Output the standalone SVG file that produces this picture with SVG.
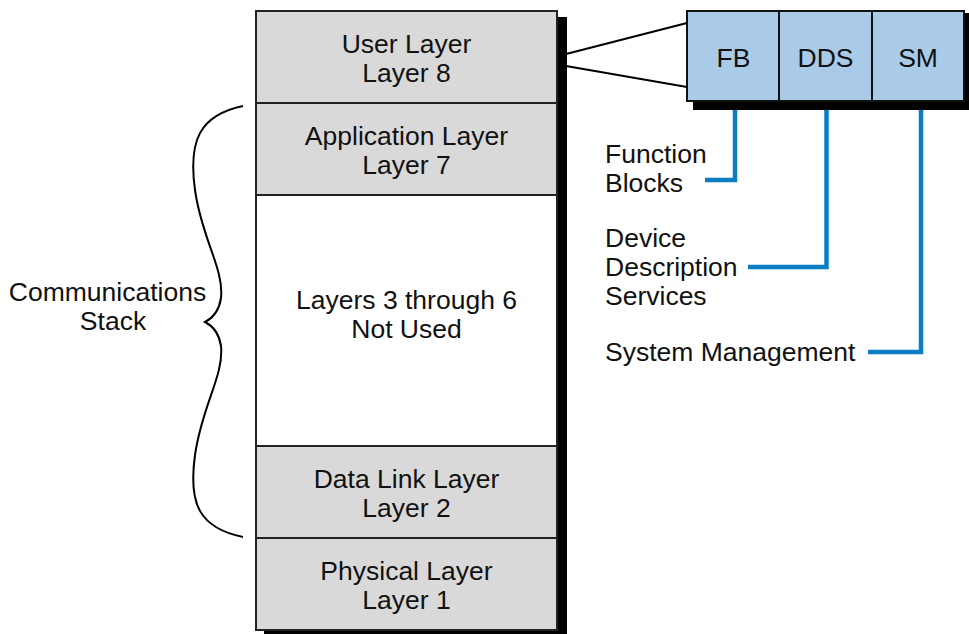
<svg xmlns="http://www.w3.org/2000/svg" width="969" height="634" viewBox="0 0 969 634">
<style>
text{font-family:"Liberation Sans",Arial,Helvetica,sans-serif;font-size:26.5px;fill:#111}
.c{text-anchor:middle}
.grey{fill:#d9d9d9;stroke:#222;stroke-width:2}
.white{fill:#fff;stroke:#222;stroke-width:2}
.blue{fill:#a9cbe7;stroke:#111;stroke-width:2}
.shadow{fill:#000}
.line{fill:none;stroke:#000;stroke-width:2}
.conn{fill:none;stroke:#0b7dc3;stroke-width:4.5}
</style>
<rect class="shadow" x="264" y="17" width="303" height="620"/>
<rect class="shadow" x="693" y="13" width="276" height="97"/>
<g id="user-layer"><rect class="grey" x="256" y="11" width="301" height="92"/><text class="c" x="406.5" y="53">User Layer</text><text class="c" x="406.5" y="82">Layer 8</text></g>
<g id="application-layer"><rect class="grey" x="256" y="103" width="301" height="92"/><text class="c" x="406.5" y="145">Application Layer</text><text class="c" x="406.5" y="174">Layer 7</text></g>
<g id="layers-3-6"><rect class="white" x="256" y="195" width="301" height="251"/><text class="c" x="406.5" y="309">Layers 3 through 6</text><text class="c" x="406.5" y="338">Not Used</text></g>
<g id="data-link-layer"><rect class="grey" x="256" y="446" width="301" height="92"/><text class="c" x="406.5" y="488">Data Link Layer</text><text class="c" x="406.5" y="517">Layer 2</text></g>
<g id="physical-layer"><rect class="grey" x="256" y="538" width="301" height="92"/><text class="c" x="406.5" y="580">Physical Layer</text><text class="c" x="406.5" y="609">Layer 1</text></g>
<g id="fb"><rect class="blue" x="687" y="11" width="92" height="90"/><text class="c" x="733.5" y="67">FB</text></g>
<g id="dds"><rect class="blue" x="779" y="11" width="93" height="90"/><text class="c" x="825.5" y="67">DDS</text></g>
<g id="sm"><rect class="blue" x="872" y="11" width="92" height="90"/><text class="c" x="918" y="67">SM</text></g>
<g id="communications-stack"><path class="line" d="M243,106 C200,115 188,140 195,190 C202,240 224,268 221,298 C219,311 213,318 205,322 C213,326 219,333 221,346 C224,376 202,405 195,455 C188,505 200,528 243,537"/><text class="c" x="107.5" y="301">Communications</text><text class="c" x="113" y="330">Stack</text></g>
<g id="label-function-blocks"><text x="605" y="163">Function</text><text x="605" y="192">Blocks</text></g>
<g id="label-dds"><text x="605" y="247">Device</text><text x="605" y="276">Description</text><text x="605" y="305">Services</text></g>
<g id="label-sm"><text x="605" y="361">System Management</text></g>
<g id="connectors">
<path class="line" d="M566,54 L687,23"/>
<path class="line" d="M566,66 L687,87"/>
<path class="conn" d="M735,110 V180 H705"/>
<path class="conn" d="M826.5,110 V267 H748"/>
<path class="conn" d="M921,110 V352 H868"/>
</g>
</svg>
